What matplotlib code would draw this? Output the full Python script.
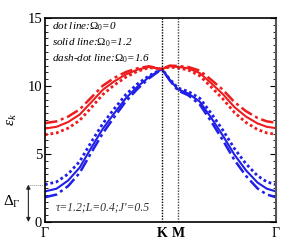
import matplotlib
matplotlib.use("Agg")
import matplotlib.pyplot as plt
from matplotlib.ticker import MultipleLocator

plt.rcParams['font.family'] = 'Liberation Serif'
plt.rcParams['mathtext.fontset'] = 'custom'
plt.rcParams['mathtext.rm'] = 'Liberation Serif'
plt.rcParams['mathtext.it'] = 'Liberation Serif:italic'
plt.rcParams['mathtext.bf'] = 'Liberation Serif:bold'

# path coordinate (Gamma=0 ... K ... M ... Gamma=1)
kpath = [0.0, 0.05, 0.10, 0.15, 0.20, 0.25, 0.30, 0.35, 0.40, 0.45, 0.506,
         0.54, 0.576, 0.62, 0.67, 0.72, 0.77, 0.82, 0.87, 0.92, 0.96, 1.0]
k_ticks = [0.0, 0.506, 0.576, 1.0]
k_labels = [r'$\Gamma$', r'$\mathbf{K}$', r'$\mathbf{M}$', r'$\Gamma$']

# lower (blue) band
blue_dot = [2.75, 2.95, 3.53, 4.45, 5.87, 7.23, 8.33, 9.37, 10.15, 10.75, 11.25,
            10.50, 9.85, 9.60, 9.10, 7.98, 6.75, 5.40, 4.28, 3.40, 2.95, 2.75]
blue_solid = [2.25, 2.45, 3.05, 4.00, 5.45, 6.85, 8.00, 9.10, 9.95, 10.65, 11.25,
              10.45, 9.75, 9.45, 8.85, 7.65, 6.35, 4.95, 3.80, 2.90, 2.45, 2.25]
blue_dashdot = [1.82, 2.02, 2.64, 3.61, 5.09, 6.52, 7.72, 8.87, 9.78, 10.56, 11.25,
                10.41, 9.66, 9.32, 8.64, 7.37, 6.01, 4.56, 3.39, 2.47, 2.02, 1.82]

# upper (red) band
red_dot = [6.42, 6.55, 6.90, 7.47, 8.40, 9.37, 10.07, 10.65, 11.08, 11.35, 11.25,
           11.40, 11.32, 11.18, 10.75, 9.92, 9.05, 8.05, 7.32, 6.80, 6.55, 6.45]
red_solid = [6.87, 7.00, 7.35, 7.90, 8.80, 9.72, 10.35, 10.85, 11.20, 11.40, 11.25,
             11.45, 11.40, 11.30, 10.95, 10.20, 9.40, 8.45, 7.75, 7.25, 7.00, 6.90]
red_dashdot = [7.27, 7.40, 7.75, 8.28, 9.15, 10.02, 10.60, 11.03, 11.30, 11.45, 11.25,
               11.50, 11.47, 11.40, 11.13, 10.45, 9.72, 8.82, 8.15, 7.65, 7.40, 7.30]

delta_gamma = 2.75
y_ticks = [0, 5, 10, 15]

fig = plt.figure(figsize=(3.05, 2.49), dpi=100)
ax = fig.add_axes([45/305, 27/249, 231/305, 204/249])

blue = '#1f1fe8'
red = '#ee1c1c'
dashdot = (0, (5, 1.5, 1.2, 1.5))
ax.plot(kpath, blue_dot, color=blue, ls=(0, (1, 1)), lw=2.0)
ax.plot(kpath, blue_solid, color=blue, ls='-', lw=1.5)
ax.plot(kpath, blue_dashdot, color=blue, ls=dashdot, lw=1.8)
ax.plot(kpath, red_dot, color=red, ls=(0, (1, 1)), lw=2.0)
ax.plot(kpath, red_solid, color=red, ls='-', lw=1.5)
ax.plot(kpath, red_dashdot, color=red, ls=dashdot, lw=1.8)

ax.axvline(k_ticks[1], color='black', ls=(0, (1, 1)), lw=1.0)
ax.axvline(k_ticks[2], color='#444444', ls=(0, (1, 1)), lw=1.0)

ax.set_xlim(0, 1)
ax.set_ylim(0, 15)
ax.set_xticks(k_ticks)
ax.set_xticklabels(k_labels, fontsize=10)
ax.tick_params(axis='x', length=0, pad=3)
ax.set_yticks(y_ticks)
ax.yaxis.set_minor_locator(MultipleLocator(0.5))
ax.tick_params(axis='y', which='both', direction='in', left=True, right=True,
               labelsize=10.5, pad=2)
ax.tick_params(axis='y', which='major', length=4)
ax.tick_params(axis='y', which='minor', length=2.5)
ax.spines['right'].set_color('#555555')
ax.spines['right'].set_linewidth(1.5)
for s in ['left', 'top', 'bottom']:
    ax.spines[s].set_linewidth(1.2)

ax.set_ylabel(r'$\epsilon_k$', fontsize=11, labelpad=6)

ax.text(0.03, 0.955, r'dot line:$\Omega_0$=0', transform=ax.transAxes,
        fontsize=8, style='italic', va='center')
ax.text(0.03, 0.878, r'solid line:$\Omega_0$=1.2', transform=ax.transAxes,
        fontsize=8, style='italic', va='center')
ax.text(0.03, 0.80, r'dash-dot line:$\Omega_0$=1.6', transform=ax.transAxes,
        fontsize=8, style='italic', va='center')
ax.text(0.045, 1.1, "τ=1.2;L=0.4;J'=0.5", fontsize=8.5, style='italic',
        va='center', color='#333333')

# Delta_Gamma marker
trans = ax.get_yaxis_transform()
ax.annotate('', xy=(-0.072, 0), xytext=(-0.072, delta_gamma), xycoords=trans,
            textcoords=trans,
            arrowprops=dict(arrowstyle='<|-|>', color='#222222', lw=0.8,
                            mutation_scale=6, shrinkA=0, shrinkB=0),
            annotation_clip=False)
ax.plot([-0.075, 0], [delta_gamma, delta_gamma], transform=trans, color='#999999',
        ls=(0, (1, 1)), lw=0.7, clip_on=False)
ax.text(-0.145, 1.45, r'$\Delta_\Gamma$', transform=trans, fontsize=11,
        va='center', ha='center')

fig.savefig('out.png', dpi=100)
